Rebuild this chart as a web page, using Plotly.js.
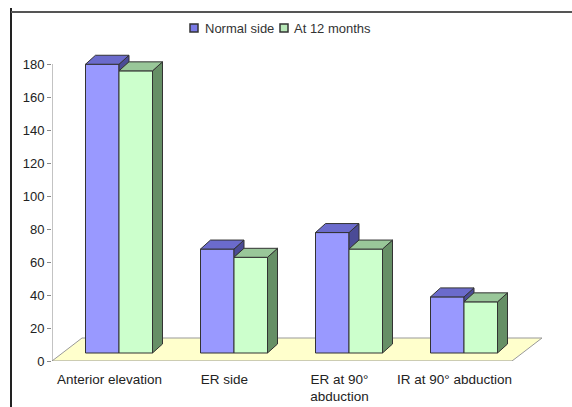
<!DOCTYPE html>
<html>
<head>
<meta charset="utf-8">
<script src="https://cdn.plot.ly/plotly-3.0.1.min.js"></script>
<style>
  html, body { margin: 0; padding: 0; background: #fff; }
  #chart { width: 572px; height: 407px; }
</style>
</head>
<body>
<div id="chart"></div>
<script>
// Range of motion (degrees), normal side vs. operated side at 12 months
const categories = ['Anterior elevation', 'ER side', 'ER at 90°<br>abduction', 'IR at 90° abduction'];
const seriesNames = ['Normal side', 'At 12 months'];
const normalSide = [175, 63, 73, 34];
const atTwelveMonths = [171, 58, 63, 31];
const yTicks = [0, 20, 40, 60, 80, 100, 120, 140, 160, 180];

// ---- layout geometry (pixels) ----
const W = 572, H = 407;
const M = { l: 52, r: 30, t: 50, b: 46 };
const plotW = W - M.l - M.r, plotH = H - M.t - M.b;
const catPx = 115;          // width of one category on the floor
const unitPx = 1.65;        // pixels per degree
const ux = 1 / catPx, uy = 1 / unitPx;

// pseudo-3D projection offsets, converted to data units
const barW = 33.5 * ux;
const barShift = 9.5 * ux;
const baseY = 8 * uy;
const depthX = 10 * ux, depthY = 9 * uy;
const floorX = 30 * ux, floorY = 23 * uy;

const xRange = [-0.5, -0.5 + plotW / catPx];
const yRange = [0, plotH / unitPx];

const colors = {
  blueFront: '#9999FF', blueTop: '#6B6BCC', blueSide: '#4B4B96',
  greenFront: '#CCFFCC', greenTop: '#99C799', greenSide: '#668F66',
  edge: '#333333'
};
const legendSwatch = ['#7A7AE6', '#B8E8B8'];

const idx = categories.map((_, i) => i);

function addPoly(acc, pts) {
  pts.forEach(p => { acc.x.push(p[0]); acc.y.push(p[1]); });
  acc.x.push(pts[0][0]); acc.y.push(pts[0][1]);
  acc.x.push(null); acc.y.push(null);
}

const blueTop = { x: [], y: [] }, blueSide = { x: [], y: [] };
const greenTop = { x: [], y: [] }, greenSide = { x: [], y: [] };

idx.forEach(i => {
  const bl = i + barShift - barW, br = i + barShift;
  const gl = br, gr = br + barW;
  const bt = baseY + normalSide[i];
  const gt = baseY + atTwelveMonths[i];
  // top faces
  addPoly(blueTop, [[bl, bt], [bl + depthX, bt + depthY], [br + depthX, bt + depthY], [br, bt]]);
  addPoly(greenTop, [[gl, gt], [gl + depthX, gt + depthY], [gr + depthX, gt + depthY], [gr, gt]]);
  // right side of the blue column: only the part rising above its neighbour
  const hidden = Math.min(gt, bt);
  addPoly(blueSide, [[br, hidden], [br, bt], [br + depthX, bt + depthY], [br + depthX, hidden + depthY]]);
  // right side of the green column
  addPoly(greenSide, [[gr, baseY], [gr, gt], [gr + depthX, gt + depthY], [gr + depthX, baseY + depthY]]);
});

function faceTrace(poly, fill) {
  return {
    type: 'scatter', mode: 'lines', x: poly.x, y: poly.y,
    fill: 'toself', fillcolor: fill,
    line: { color: colors.edge, width: 1 },
    hoverinfo: 'skip', showlegend: false, connectgaps: false
  };
}

const traces = [
  {
    type: 'bar', name: seriesNames[0], x: idx, y: normalSide, base: baseY,
    width: barW, offset: barShift - barW,
    marker: { color: colors.blueFront, line: { color: colors.edge, width: 1 } },
    showlegend: false, hoverinfo: 'skip'
  },
  {
    type: 'bar', name: seriesNames[1], x: idx, y: atTwelveMonths, base: baseY,
    width: barW, offset: barShift,
    marker: { color: colors.greenFront, line: { color: colors.edge, width: 1 } },
    showlegend: false, hoverinfo: 'skip'
  },
  faceTrace(blueSide, colors.blueSide),
  faceTrace(blueTop, colors.blueTop),
  faceTrace(greenSide, colors.greenSide),
  faceTrace(greenTop, colors.greenTop)
];

// floor plane
const floorPath =
  'M' + (-0.5) + ',0' +
  ' L' + (idx.length - 0.5) + ',0' +
  ' L' + (idx.length - 0.5 + floorX) + ',' + floorY +
  ' L' + (-0.5 + floorX) + ',' + floorY + ' Z';

const px2paperX = px => (px - M.l) / plotW;
const px2paperY = py => (H - M.b - py) / plotH;

// compact legend: swatch + label pairs along the top
const legendItems = [
  { swatchX: 190, textX: 203 },
  { swatchX: 280, textX: 292 }
];
const legendY = 28, swatch = 8;
const legendShapes = legendItems.map((it, k) => ({
  type: 'rect', xref: 'paper', yref: 'paper',
  x0: px2paperX(it.swatchX), x1: px2paperX(it.swatchX + swatch),
  y0: px2paperY(legendY + swatch / 2), y1: px2paperY(legendY - swatch / 2),
  fillcolor: legendSwatch[k], line: { color: '#333', width: 1.5 }
}));
const legendText = legendItems.map((it, k) => ({
  xref: 'paper', yref: 'paper', x: px2paperX(it.textX), y: px2paperY(legendY),
  xanchor: 'left', yanchor: 'middle', showarrow: false,
  text: seriesNames[k], font: { size: 13, color: '#333' }
}));

const layout = {
  width: W, height: H,
  margin: M,
  paper_bgcolor: '#fff', plot_bgcolor: 'rgba(0,0,0,0)',
  font: { family: 'Liberation Sans, Arial, sans-serif', size: 13, color: '#222' },
  barmode: 'overlay',
  showlegend: false,
  xaxis: {
    range: xRange, fixedrange: true,
    tickmode: 'array', tickvals: idx, ticktext: categories,
    ticks: '', showline: false, showgrid: false, zeroline: false,
    ticklabelstandoff: 8,
    tickfont: { size: 13.5, color: '#222' }
  },
  xaxis2: {
    overlaying: 'x', anchor: 'y', side: 'bottom', range: xRange, fixedrange: true,
    tickmode: 'array', tickvals: [0.5, 1.5, 2.5, 3.5],
    ticks: 'outside', ticklen: 5, tickcolor: '#888', tickwidth: 1,
    showticklabels: false, showline: false, showgrid: false, zeroline: false
  },
  yaxis: {
    range: yRange, fixedrange: true,
    tickmode: 'array', tickvals: yTicks,
    ticks: 'outside', ticklen: 4, tickcolor: '#888', tickwidth: 1,
    showline: false, showgrid: false, zeroline: false,
    tickfont: { size: 13, color: '#222' }
  },
  annotations: legendText,
  shapes: [
    { type: 'path', xref: 'x', yref: 'y', path: floorPath, layer: 'below',
      fillcolor: '#FFFFCC', line: { color: '#999', width: 1 } },
    { type: 'line', xref: 'x', yref: 'y', x0: -0.5, x1: -0.5, y0: 0, y1: yTicks[yTicks.length - 1],
      line: { color: '#888', width: 1 } },
    // chart frame
    { type: 'line', xref: 'paper', yref: 'paper',
      x0: px2paperX(11), x1: px2paperX(11), y0: px2paperY(8), y1: px2paperY(407),
      line: { color: '#222', width: 2 } },
    { type: 'line', xref: 'paper', yref: 'paper',
      x0: px2paperX(11), x1: px2paperX(572), y0: px2paperY(12), y1: px2paperY(12),
      line: { color: '#555', width: 2 } }
  ].concat(legendShapes)
};

Plotly.newPlot('chart', traces, layout, { staticPlot: true, displayModeBar: false });
</script>
</body>
</html>
